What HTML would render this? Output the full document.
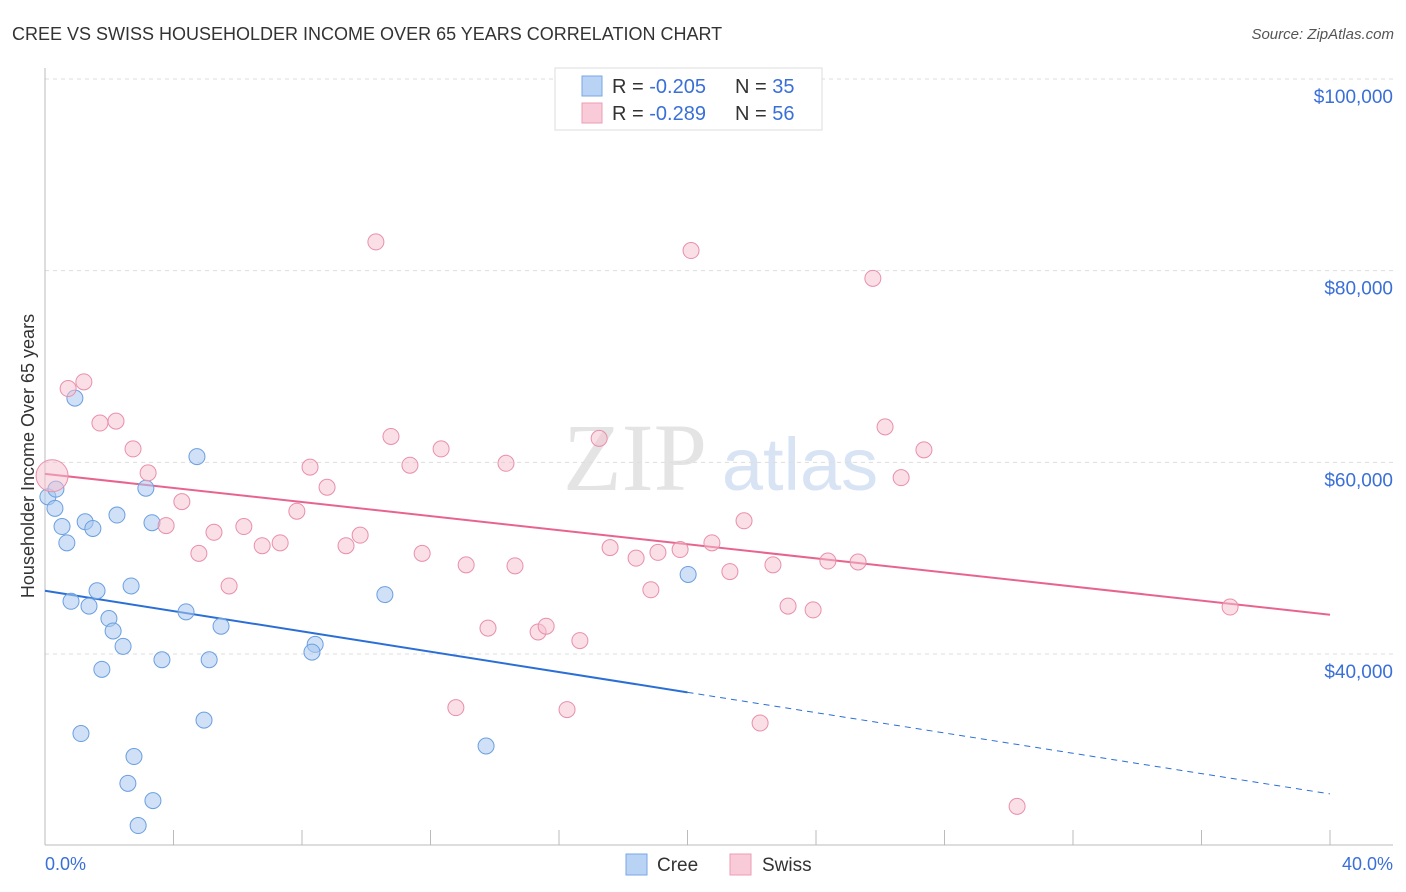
<!DOCTYPE html>
<html><head><meta charset="utf-8"><style>
body{margin:0;background:#fff;font-family:"Liberation Sans",sans-serif;}
svg{display:block}
</style></head><body>
<svg id="chart" width="1406" height="892">
<text x="12" y="40" font-size="18" fill="#333">CREE VS SWISS HOUSEHOLDER INCOME OVER 65 YEARS CORRELATION CHART</text>
<text x="1394" y="39" font-size="15" fill="#555" font-style="italic" text-anchor="end">Source: ZipAtlas.com</text>
<g>
<text x="635" y="490" font-size="96" font-family="Liberation Serif,serif" fill="#e4e4e4" text-anchor="middle">ZIP</text>
<text x="800" y="490" font-size="74" fill="#d8e4f4" text-anchor="middle">atlas</text>
</g>
<g id="grid"></g>
<g id="axes"></g>
<g id="trends"></g>
<g id="points"></g>
<text transform="translate(34,456) rotate(-90)" font-size="18" fill="#333" text-anchor="middle">Householder Income Over 65 years</text>
<text x="45" y="870" font-size="18" fill="#3a6fd8">0.0%</text>
<text x="1393" y="870" font-size="18" fill="#3a6fd8" text-anchor="end">40.0%</text>
<g>
<rect x="555" y="68" width="267" height="62" fill="#fff" stroke="#ddd"/>
<rect x="582" y="76" width="20" height="20" fill="#b9d3f5" stroke="#7aa6e6"/>
<rect x="582" y="103" width="20" height="20" fill="#f9cbd8" stroke="#ec9db6"/>
<text x="612" y="93" font-size="20" fill="#333">R = <tspan fill="#3a6fd8">-0.205</tspan><tspan x="735">N = </tspan><tspan fill="#3a6fd8">35</tspan></text>
<text x="612" y="120" font-size="20" fill="#333">R = <tspan fill="#3a6fd8">-0.289</tspan><tspan x="735">N = </tspan><tspan fill="#3a6fd8">56</tspan></text>
</g>
<g>
<rect x="626" y="854" width="21" height="21" fill="#b9d3f5" stroke="#7aa6e6"/>
<text x="657" y="871" font-size="19" fill="#333">Cree</text>
<rect x="730" y="854" width="21" height="21" fill="#f9cbd8" stroke="#ec9db6"/>
<text x="762" y="871" font-size="19" fill="#333">Swiss</text>
</g>
</svg>
<script>
const yTicks=[40000,60000,80000,100000];
const yTickLabels=["$40,000","$60,000","$80,000","$100,000"];
const xTicks=[0,4,8,12,16,20,24,28,32,36,40];
const creeX=[0.09,0.31,0.34,0.53,0.68,0.93,0.81,1.25,1.49,1.37,1.62,1.99,2.12,2.43,1.77,1.12,2.77,2.58,3.36,2.90,2.68,3.14,2.24,3.33,4.39,4.73,5.48,5.11,3.64,4.95,8.41,8.31,10.58,13.73,20.02];
const creeY=[56.4,55.2,57.2,53.3,51.6,66.7,45.5,53.8,53.1,45.0,46.6,43.7,42.4,40.8,38.4,31.7,29.3,26.5,24.7,22.1,47.1,57.3,54.5,53.7,44.4,60.6,42.9,39.4,39.4,33.1,41.0,40.2,46.2,30.4,48.3];
const swissX=[0.22,0.72,1.21,1.71,2.21,2.74,3.21,3.77,4.26,4.79,5.26,5.73,6.19,6.76,7.32,7.84,8.25,8.78,9.37,9.81,10.30,10.77,11.36,11.74,12.33,12.79,13.11,13.79,14.35,14.63,15.35,15.60,16.25,16.65,17.25,17.59,18.40,18.86,19.08,19.77,20.11,20.76,21.32,21.76,22.26,22.66,23.13,23.91,24.37,25.31,25.77,26.15,26.65,27.36,30.26,36.89];
const swissY=[58.6,67.7,68.4,64.1,64.3,61.4,58.9,53.4,55.9,50.5,52.7,47.1,53.3,51.3,51.6,54.9,59.5,57.4,51.3,52.4,83.0,62.7,59.7,50.5,61.4,34.4,49.3,42.7,59.9,49.2,42.3,42.9,34.2,41.4,62.5,51.1,50.0,46.7,50.6,50.9,82.1,51.6,48.6,53.9,32.8,49.3,45.0,44.6,49.7,49.6,79.2,63.7,58.4,61.3,24.1,44.9];
const creeTrend=[46.6,25.4];   // value (k$) at x=0% and x=40%
const swissTrend=[58.8,44.1];
const creeSolidEnd=20;

const NS="http://www.w3.org/2000/svg";
const X=v=>45+v/40*1285;
const Y=v=>79+(100-v)*575/60; // v in thousands
function mk(tag,attrs,parent){const e=document.createElementNS(NS,tag);for(const k in attrs)e.setAttribute(k,attrs[k]);document.getElementById(parent).appendChild(e);return e;}

yTicks.forEach((t,i)=>{
 const g=mk('line',{x1:45,x2:1393,y1:Y(t/1000),y2:Y(t/1000),stroke:'#ddd','stroke-dasharray':'4,4'},'grid');
 
 
 const l=mk('text',{x:1393,y:Y(t/1000)+24,'font-size':19,fill:'#3a6fd8','text-anchor':'end'},'grid');
 l.textContent=yTickLabels[i];
 
 
});
const ya=mk('line',{x1:45,x2:45,y1:68,y2:845,stroke:'#bbb'},'axes');


const xa=mk('line',{x1:45,x2:1393,y1:845,y2:845,stroke:'#bbb'},'axes');


xTicks.forEach(t=>{
 const k=mk('line',{x1:X(t),x2:X(t),y1:830,y2:845,stroke:'#bbb'},'axes');
 
 
});
function tv(tr,x){return tr[0]+(tr[1]-tr[0])*x/40;}
const c1=mk('line',{x1:X(0),y1:Y(tv(creeTrend,0)),x2:X(creeSolidEnd),y2:Y(tv(creeTrend,creeSolidEnd)),stroke:'#2b6fd6','stroke-width':2},'trends');


const c2=mk('line',{x1:X(creeSolidEnd),y1:Y(tv(creeTrend,creeSolidEnd)),x2:X(40),y2:Y(tv(creeTrend,40)),stroke:'#2b6fd6','stroke-width':1,'stroke-dasharray':'6,5'},'trends');


const s1=mk('line',{x1:X(0),y1:Y(tv(swissTrend,0)),x2:X(40),y2:Y(tv(swissTrend,40)),stroke:'#e8648f','stroke-width':2},'trends');



creeX.forEach((x,i)=>{
 const c=mk('circle',{cx:X(x),cy:Y(creeY[i]),r:8,fill:'rgba(169,200,240,0.55)',stroke:'#6a9fe0','stroke-width':1},'points');
 
 
});
swissX.forEach((x,i)=>{
 const c=mk('circle',{cx:X(x),cy:Y(swissY[i]),r:i===0?16:8,fill:'rgba(246,191,208,0.5)',stroke:'#e98fab','stroke-width':1},'points');
 
 
});
</script>
</body></html>
